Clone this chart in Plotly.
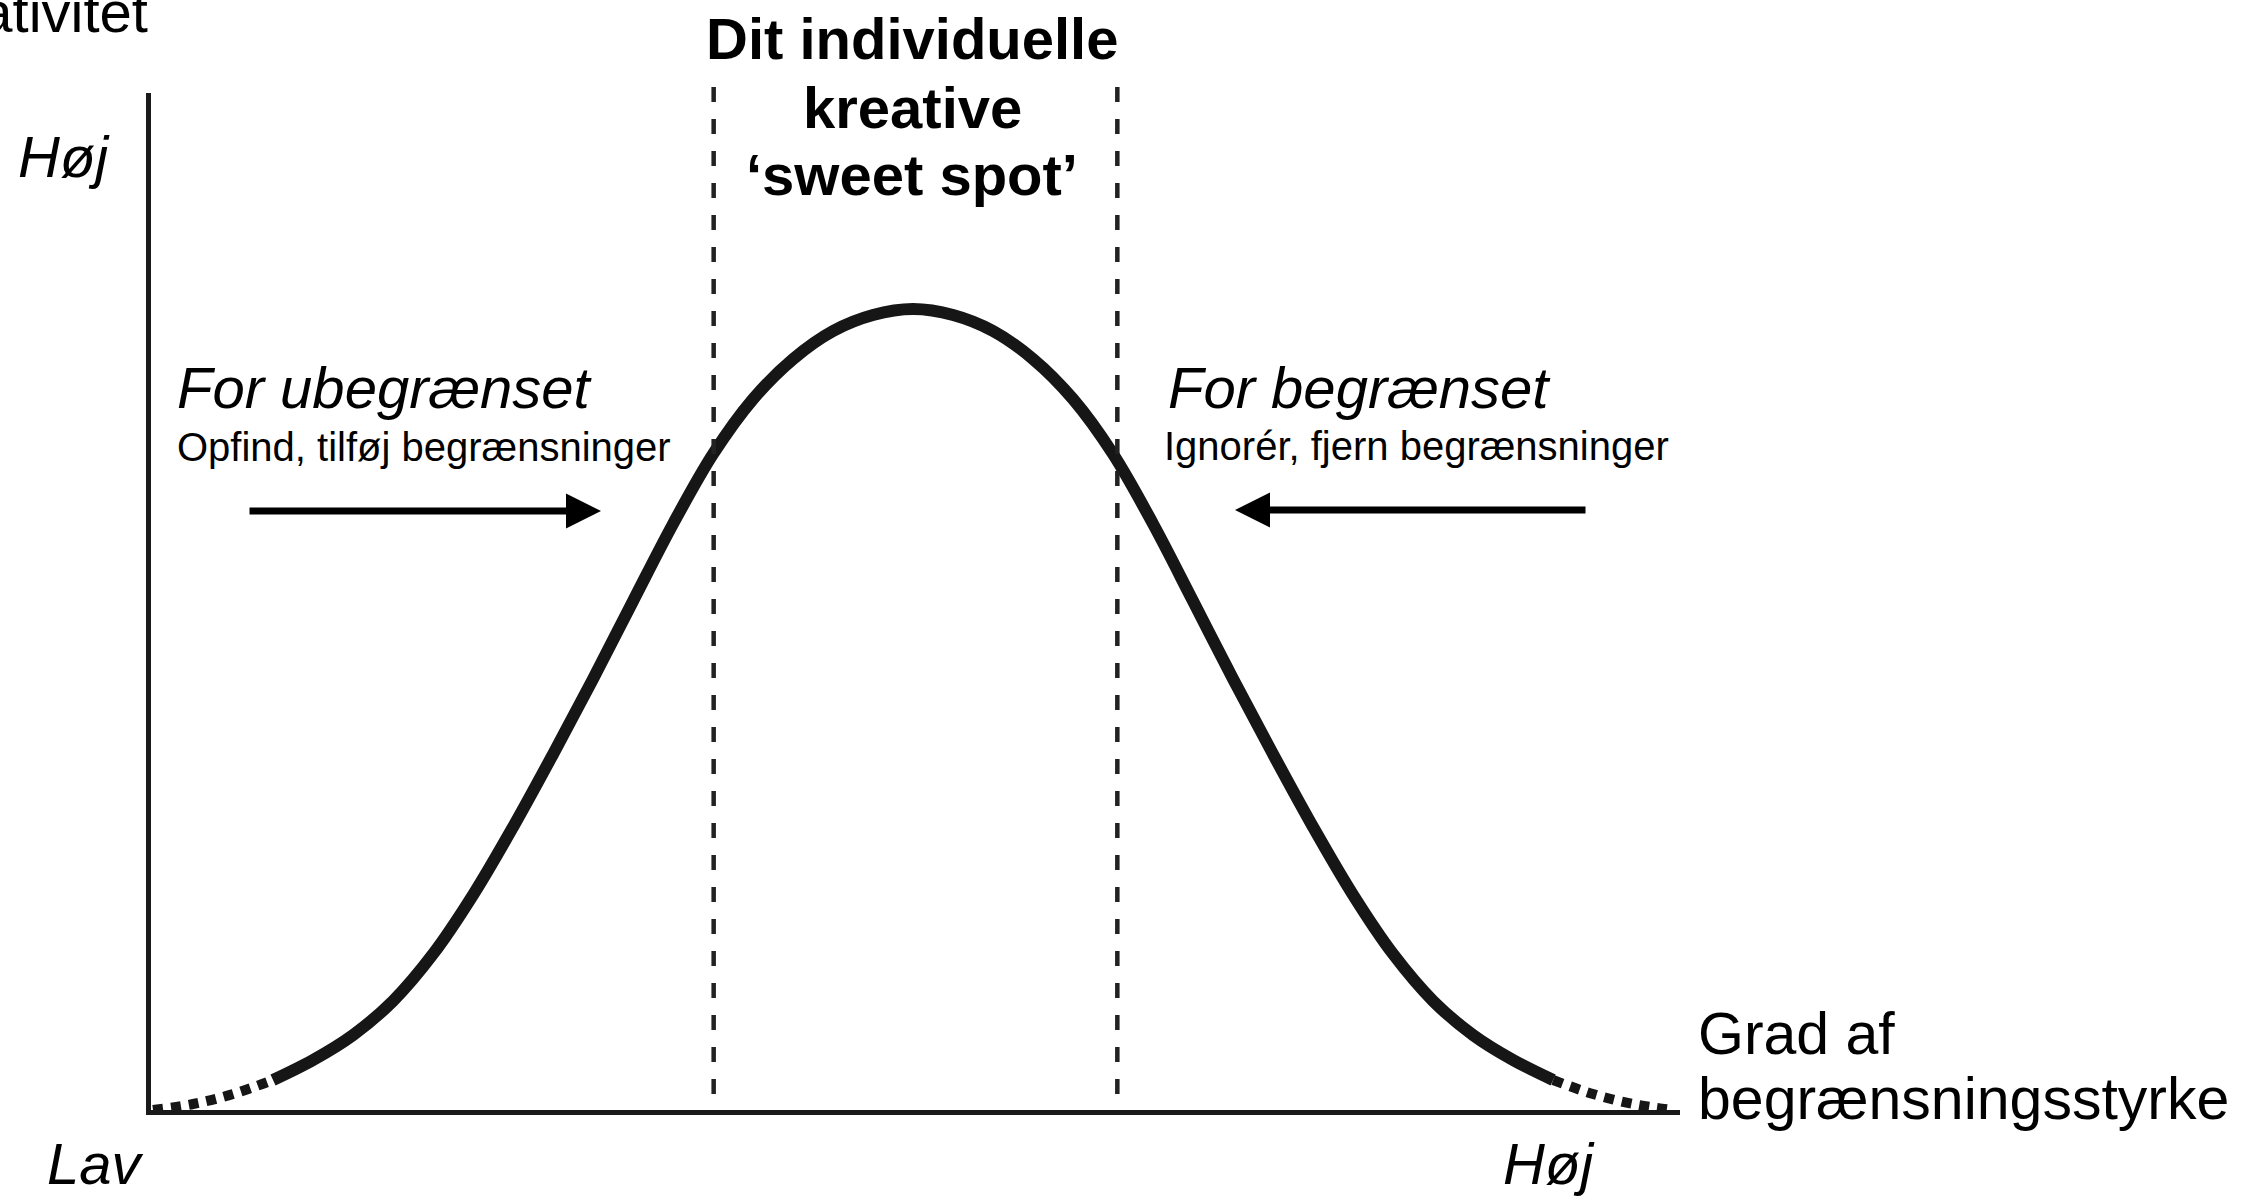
import plotly.graph_objects as go

# ---------------- data ----------------
# x: constraint strength (0..100), y: creativity (0..100)
tail_left_x = [0.13, 2.75, 5.37, 7.98]
tail_left_y = [0.00, 0.59, 1.57, 2.95]

curve_x = [7.98, 10.60, 13.21, 15.83, 18.45, 21.06, 23.68, 26.30, 28.91, 31.53,
           34.14, 36.76, 39.38, 41.99, 44.61, 47.22, 49.84, 52.46, 55.07, 57.69,
           60.30, 62.92, 65.54, 68.15, 70.77, 73.38, 76.00, 78.62, 81.23, 83.85,
           86.47, 89.08, 91.70]
curve_y = [2.95, 4.92, 7.37, 10.72, 15.34, 21.14, 27.83, 35.00, 42.38, 50.05,
           57.62, 64.50, 69.91, 73.84, 76.60, 78.17, 78.76, 78.17, 76.60, 73.84,
           69.91, 64.50, 57.62, 50.05, 42.38, 35.00, 27.83, 21.14, 15.34, 10.72,
           7.37, 4.92, 2.95]

tail_right_x = [91.70, 94.31, 96.93, 99.55]
tail_right_y = [2.95, 1.57, 0.59, 0.00]

sweet_spot = [36.8, 63.2]

title_lines = ["Dit individuelle", "kreative", "\u2018sweet spot\u2019"]
y_title = "Kreativitet"
x_title_lines = ["Grad af", "begrænsningsstyrke"]
low_label = "Lav"
high_label = "Høj"
left_head = "For ubegrænset"
left_sub = "Opfind, tilføj begrænsninger"
right_head = "For begrænset"
right_sub = "Ignorér, fjern begrænsninger"

# ---------------- layout geometry ----------------
W, H = 2244, 1197
L, R, T, B = 151, 1680, 93, 1110   # plot area in pixels
PW, PH = R - L, B - T
FONT = "Arial, Liberation Sans, Helvetica, sans-serif"
BIG, SMALL = 58, 40
INK = "#161616"


def px(X):
    return (X - L) / PW


def py(Y):
    return (B - Y) / PH


def dx(X):
    return (X - L) / PW * 100


def dy(Y):
    return (B - Y) / PH * 100


fig = go.Figure()

fig.add_trace(go.Scatter(x=tail_left_x, y=tail_left_y, mode="lines",
                         line=dict(color=INK, width=10, dash="10px,8px", shape="spline"),
                         hoverinfo="skip", cliponaxis=False, showlegend=False))
fig.add_trace(go.Scatter(x=curve_x, y=curve_y, mode="lines",
                         line=dict(color=INK, width=12, shape="spline", smoothing=1.0),
                         hoverinfo="skip", cliponaxis=False, showlegend=False))
fig.add_trace(go.Scatter(x=tail_right_x, y=tail_right_y, mode="lines",
                         line=dict(color=INK, width=10, dash="10px,8px", shape="spline"),
                         hoverinfo="skip", cliponaxis=False, showlegend=False))

shapes = []
for xs in sweet_spot:
    # drawn from the top down so the dash pattern starts at the top
    shapes.append(dict(type="line", xref="x", yref="paper", x0=xs, x1=xs,
                       y0=py(87), y1=0, line=dict(color="#222222", width=4.5, dash="15px,17px")))

annotations = []


def text(s, X, Ybase, size, anchor="left", italic=False, bold=False):
    t = s
    if bold:
        t = "<b>" + t + "</b>"
    if italic:
        t = "<i>" + t + "</i>"
    annotations.append(dict(text=t, xref="paper", yref="paper", x=px(X), y=py(Ybase - 0.35 * size),
                            xanchor=anchor, yanchor="middle", showarrow=False,
                            font=dict(family=FONT, size=size, color="black")))


# title
for line, yb in zip(title_lines, [59, 128, 195]):
    text(line, 912, yb, BIG, anchor="center", bold=True)

# axis labels
text(y_title, 150, 32, BIG, anchor="right")
text(high_label, 16, 177, BIG, italic=True)
text(low_label, 45, 1184, BIG, italic=True)
text(high_label, 1501, 1184, BIG, italic=True)
text(x_title_lines[0], 1696, 1055, 59)
text(x_title_lines[1], 1696, 1120, 59)

# region labels
text(left_head, 175, 408, BIG, italic=True)
text(left_sub, 175, 461, SMALL)
text(right_head, 1166, 408, BIG, italic=True)
text(right_sub, 1162, 460, SMALL)

# arrows
for tail, tip, yy in [(248, 601, 511), (1587, 1235, 510)]:
    annotations.append(dict(text="", xref="x", yref="y", axref="x", ayref="y",
                            x=dx(tip), y=dy(yy), ax=dx(tail), ay=dy(yy),
                            showarrow=True, arrowhead=2, arrowsize=1.0, arrowwidth=7,
                            arrowcolor="black", standoff=0))

fig.update_layout(
    width=W, height=H,
    margin=dict(l=L, r=W - R, t=T, b=H - B, pad=0),
    paper_bgcolor="white", plot_bgcolor="white",
    xaxis=dict(range=[0, 100], showgrid=False, zeroline=False, showticklabels=False,
               ticks="", showline=True, linecolor="#1a1a1a", linewidth=5, fixedrange=True),
    yaxis=dict(range=[0, 100], showgrid=False, zeroline=False, showticklabels=False,
               ticks="", showline=True, linecolor="#1a1a1a", linewidth=5, fixedrange=True),
    shapes=shapes, annotations=annotations, showlegend=False,
)

fig.write_html("out.html", config={"displayModeBar": False},
               post_script="document.body.style.margin='0';document.body.style.overflow='hidden';")
